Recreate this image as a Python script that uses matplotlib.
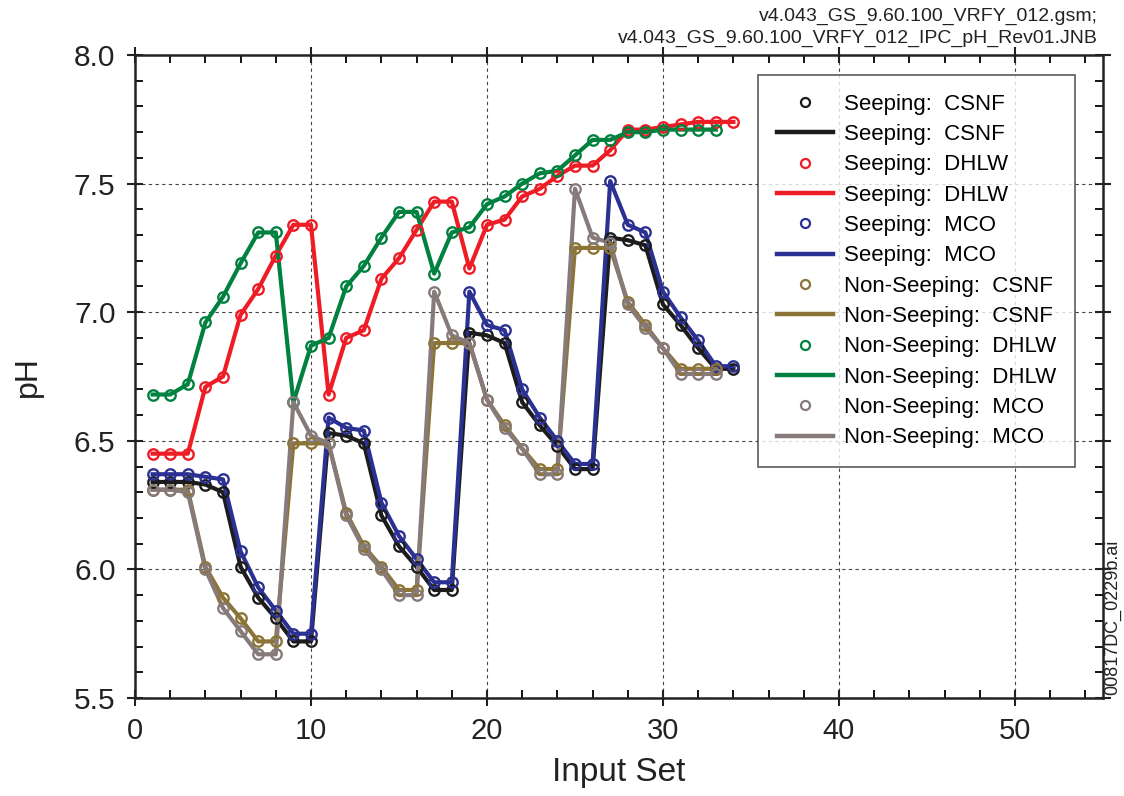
import numpy as np
import matplotlib
matplotlib.use("Agg")
import matplotlib.pyplot as plt
from matplotlib.ticker import MultipleLocator

plt.rcParams["font.family"] = ["Liberation Sans", "DejaVu Sans"]

# pH per input set
seep_csnf = [6.34, 6.34, 6.34, 6.33, 6.30, 6.01, 5.89, 5.81, 5.72, 5.72,
             6.53, 6.52, 6.49, 6.21, 6.09, 6.01, 5.92, 5.92, 6.92, 6.91,
             6.88, 6.65, 6.56, 6.48, 6.39, 6.39, 7.29, 7.28, 7.26, 7.03,
             6.95, 6.86, 6.78, 6.78]
seep_dhlw = [6.45, 6.45, 6.45, 6.71, 6.75, 6.99, 7.09, 7.22, 7.34, 7.34,
             6.68, 6.90, 6.93, 7.13, 7.21, 7.32, 7.43, 7.43, 7.17, 7.34,
             7.36, 7.45, 7.48, 7.53, 7.57, 7.57, 7.63, 7.71, 7.71, 7.72,
             7.73, 7.74, 7.74, 7.74]
seep_mco = [6.37, 6.37, 6.37, 6.36, 6.35, 6.07, 5.93, 5.84, 5.75, 5.75,
            6.59, 6.55, 6.54, 6.26, 6.13, 6.04, 5.95, 5.95, 7.08, 6.95,
            6.93, 6.70, 6.59, 6.50, 6.41, 6.41, 7.51, 7.34, 7.31, 7.08,
            6.98, 6.89, 6.79, 6.79]
nonseep_csnf = [6.31, 6.31, 6.31, 6.01, 5.89, 5.81, 5.72, 5.72, 6.49, 6.49,
                6.49, 6.22, 6.09, 6.01, 5.92, 5.92, 6.88, 6.88, 6.88, 6.66,
                6.56, 6.47, 6.39, 6.39, 7.25, 7.25, 7.25, 7.04, 6.95, 6.86,
                6.78, 6.78, 6.78]
nonseep_dhlw = [6.68, 6.68, 6.72, 6.96, 7.06, 7.19, 7.31, 7.31, 6.65, 6.87,
                6.90, 7.10, 7.18, 7.29, 7.39, 7.39, 7.15, 7.31, 7.33, 7.42,
                7.45, 7.50, 7.54, 7.55, 7.61, 7.67, 7.67, 7.70, 7.70, 7.71,
                7.71, 7.71, 7.71]
nonseep_mco = [6.31, 6.31, 6.30, 6.00, 5.85, 5.76, 5.67, 5.67, 6.65, 6.52,
               6.49, 6.21, 6.08, 6.00, 5.90, 5.90, 7.08, 6.91, 6.88, 6.66,
               6.55, 6.47, 6.37, 6.37, 7.48, 7.29, 7.27, 7.03, 6.94, 6.86,
               6.76, 6.76, 6.76]

labels = ["Seeping:  CSNF", "Seeping:  DHLW", "Seeping:  MCO",
          "Non-Seeping:  CSNF", "Non-Seeping:  DHLW", "Non-Seeping:  MCO"]
series = [seep_csnf, seep_dhlw, seep_mco, nonseep_csnf, nonseep_dhlw, nonseep_mco]
colors = ["#1c1c1c", "#ee1c25", "#2b3192", "#8c7436", "#00813f", "#877a7a"]

fig = plt.figure(figsize=(11.24, 7.96), dpi=100)
ax = fig.add_axes([0.1201, 0.1231, 0.8612, 0.8078])

handles = []
for lab, y, c in zip(labels, series, colors):
    x = np.arange(1, len(y) + 1)
    ax.plot(x, y, color=c, lw=3, zorder=3)
    ax.plot(x, y, ls="none", marker="o", ms=7.5, mfc="none", mec=c, mew=1.7, zorder=4)
    # separate legend handles (marker entry and line entry)
    h1, = ax.plot([], [], ls="none", marker="o", ms=6.5, mfc="none", mec=c, mew=1.6)
    h2, = ax.plot([], [], color=c, lw=3.2)
    handles += [h1, h2]

ax.set_xlim(0, 55)
ax.set_ylim(5.5, 8.0)
ax.xaxis.set_major_locator(MultipleLocator(10))
ax.xaxis.set_minor_locator(MultipleLocator(2))
ax.yaxis.set_major_locator(MultipleLocator(0.5))
ax.yaxis.set_minor_locator(MultipleLocator(0.1))
ax.yaxis.set_major_formatter(plt.FormatStrFormatter("%.1f"))

ax.tick_params(which="major", direction="inout", length=12, width=1.5,
               top=True, right=True, labelsize=21.5, pad=8, colors="#222222")
ax.tick_params(which="minor", direction="in", length=6, width=1.3,
               top=True, right=True)
for lab in ax.get_xticklabels():
    lab.set_fontsize(21)
for s in ax.spines.values():
    s.set_linewidth(1.8)
    s.set_color("#222222")

ax.grid(True, which="major", color="#444444", lw=0.8, ls=(0, (3, 3)))

ax.set_xlabel("Input Set", fontsize=24, labelpad=8, color="#222222")
ax.set_ylabel("pH", fontsize=23, labelpad=22, color="#222222")

leg = ax.legend(handles, [l for l in labels for _ in range(2)],
                loc="upper right", bbox_to_anchor=(0.971, 0.969),
                fontsize=16, frameon=True, fancybox=False, edgecolor="#333333",
                handlelength=2.5, handletextpad=0.5, labelspacing=0.42,
                borderpad=0.85, borderaxespad=0.0)
leg.get_frame().set_linewidth(1.2)
leg.set_zorder(10)

fig.text(0.977, 0.980, "v4.043_GS_9.60.100_VRFY_012.gsm;", ha="right", va="center",
         fontsize=14, color="#222222")
fig.text(0.977, 0.952, "v4.043_GS_9.60.100_VRFY_012_IPC_pH_Rev01.JNB", ha="right",
         va="center", fontsize=14, color="#222222")
fig.text(0.990, 0.127, "00817DC_0229b.ai", rotation=90, ha="center", va="bottom",
         fontsize=13, color="#222222")

fig.savefig("out.png", dpi=100)
